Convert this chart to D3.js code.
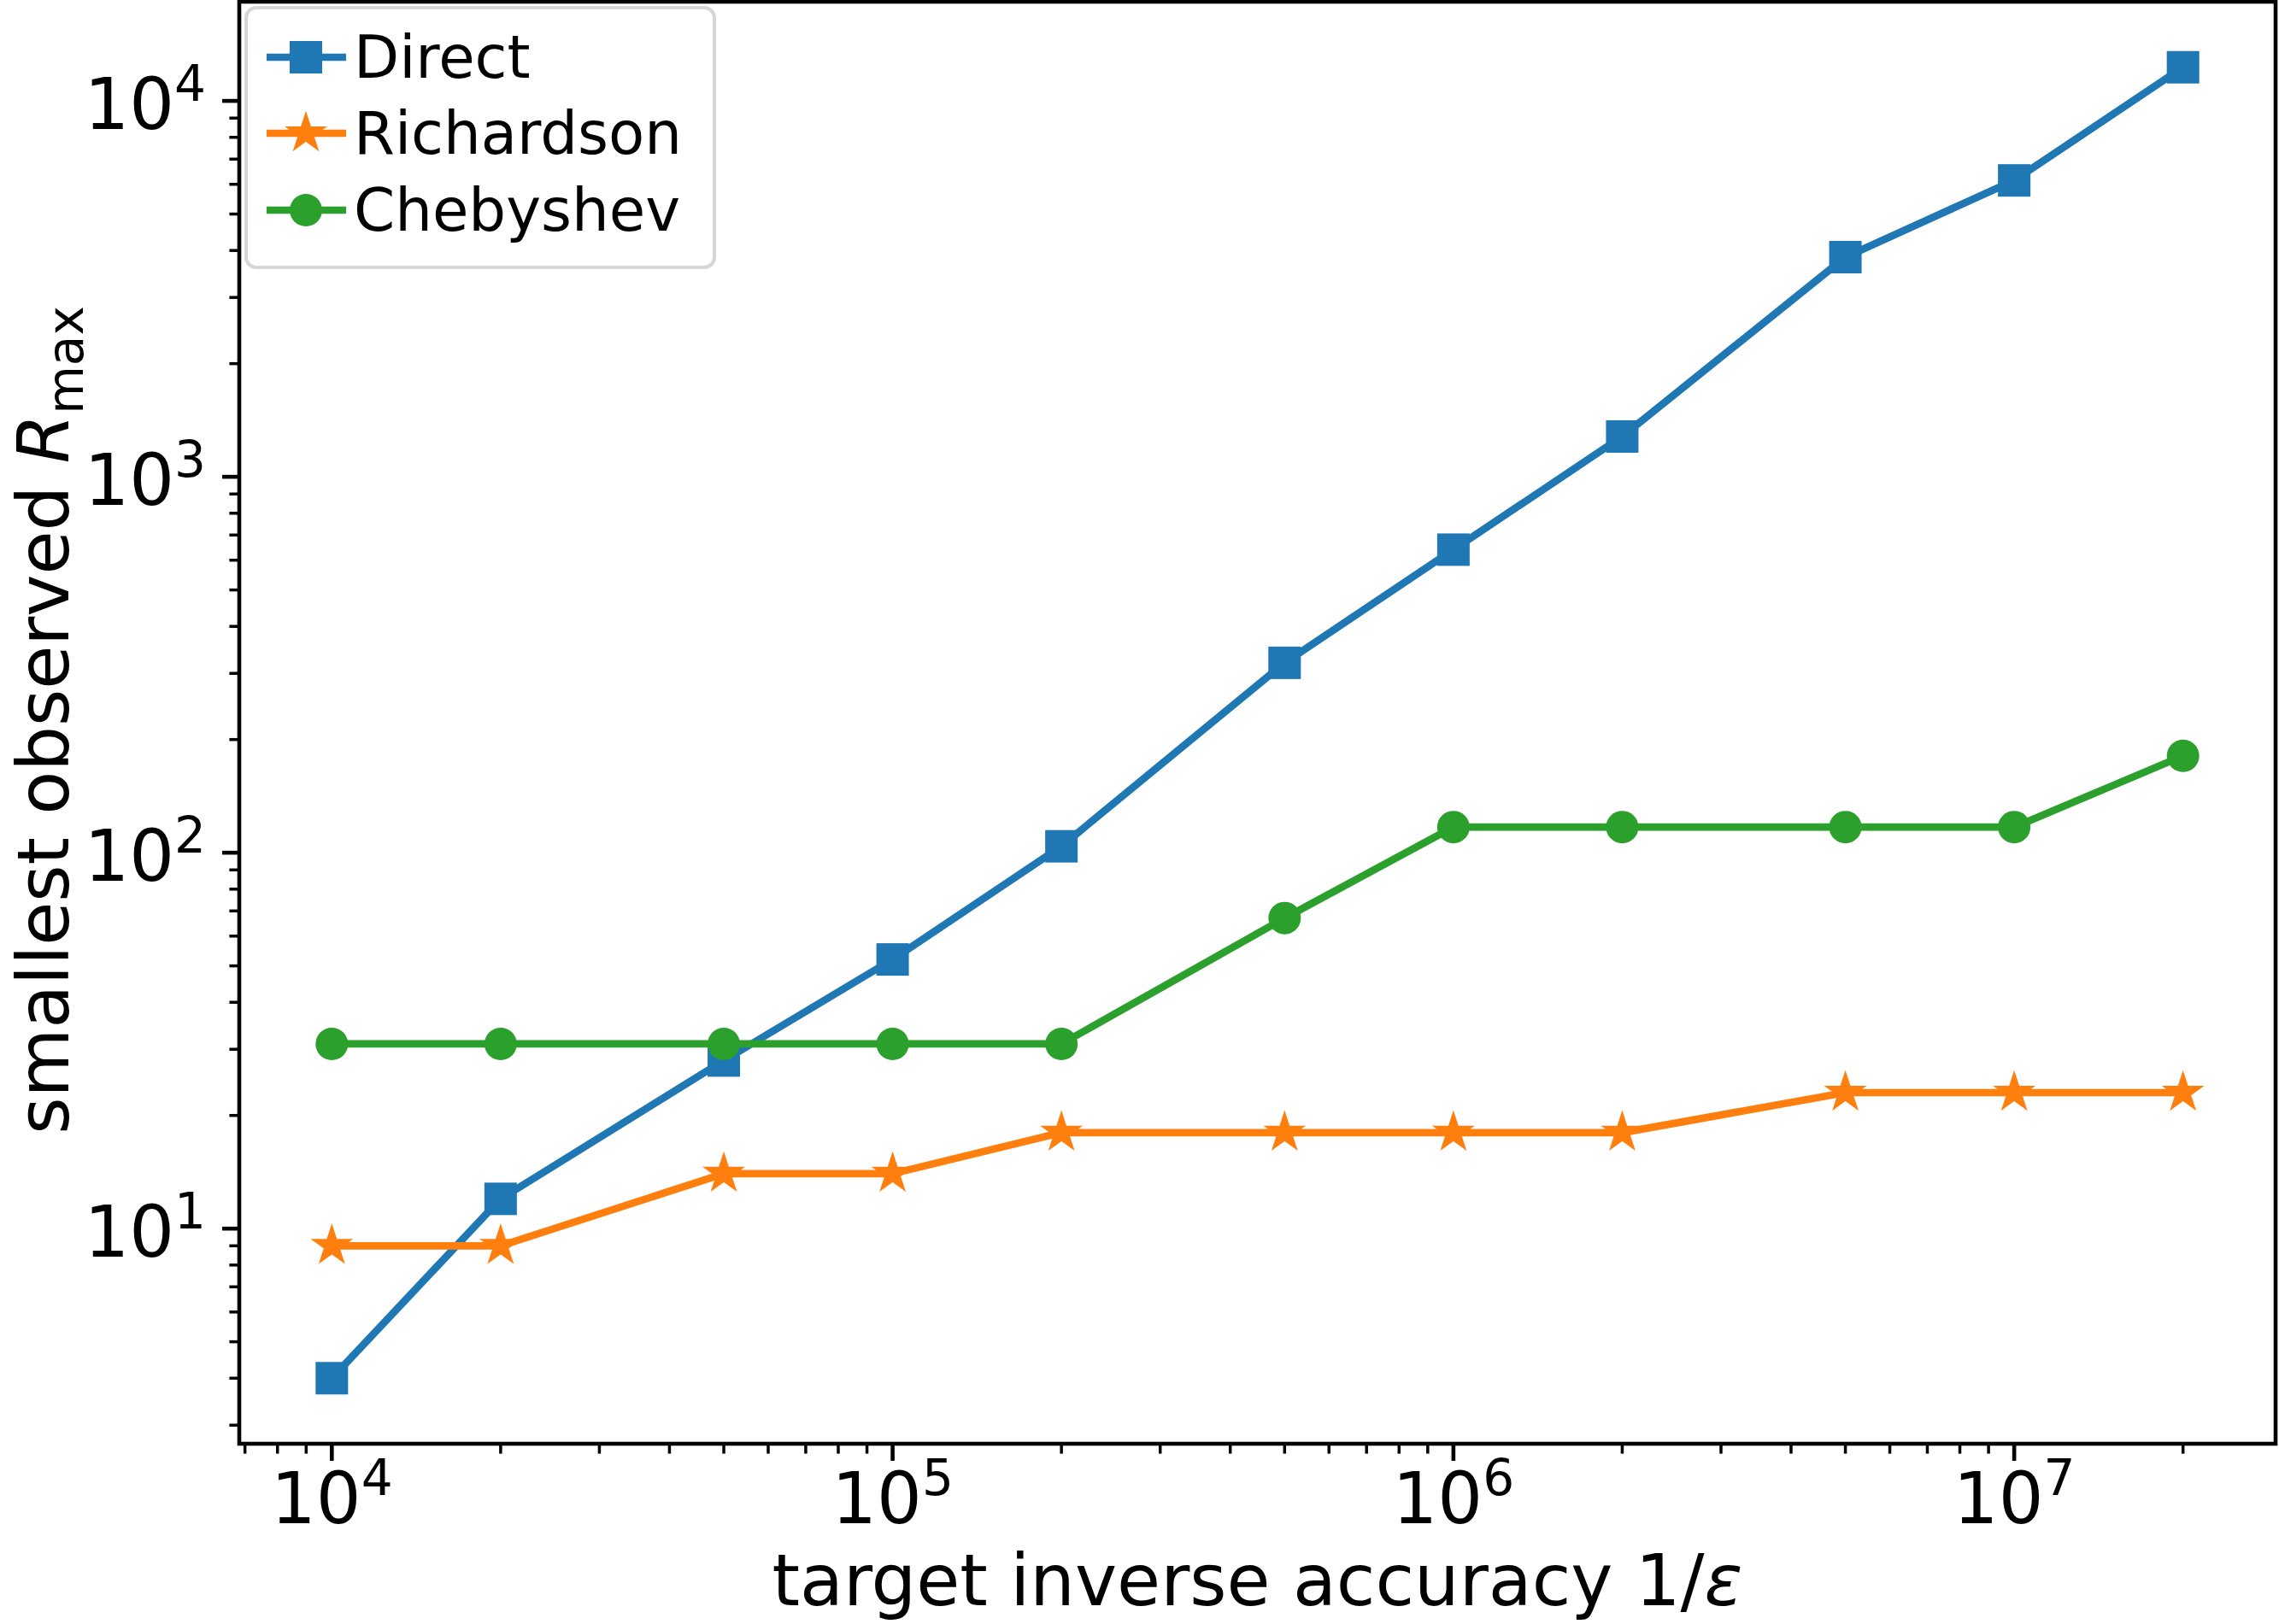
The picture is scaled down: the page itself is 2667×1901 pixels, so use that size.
<!DOCTYPE html>
<html lang="en">
<head>
<meta charset="UTF-8">
<title>smallest observed R_max</title>
<style>
    body, html { margin: 0; padding: 0; background: #fff; }
    svg { display: block; font-family: 'DejaVu Sans', sans-serif; }
    .spine { fill: none; stroke: #000; stroke-width: 4.6px; }
</style>
</head>
<body>
<svg id="chart" width="2667" height="1901"></svg>
<script src="https://d3js.org/d3.v7.min.js"></script>
<script>
// values
const targets = [1e4, 2e4, 5e4, 1e5, 2e5, 5e5, 1e6, 2e6, 5e6, 1e7, 2e7];
const direct = [4, 12, 28, 52, 104, 320, 640, 1280, 3840, 6144, 12288];
const richardson = [9, 9, 14, 14, 18, 18, 18, 18, 23, 23, 23];
const chebyshev = [31, 31, 31, 31, 31, 67, 117, 117, 117, 117, 181];
const seriesNames = ["Direct", "Richardson", "Chebyshev"];
const seriesColors = ["#1f77b4", "#ff7f0e", "#2ca02c"];
const seriesMarkers = ["square", "star", "circle"];
const xMajor = [1e4, 1e5, 1e6, 1e7];
const yMajor = [1e1, 1e2, 1e3, 1e4];

const series = [direct, richardson, chebyshev];

const svg = d3.select("#chart");
const plot = { left: 280, right: 2663, top: 2, bottom: 1690 };
const tickFont = 83, legendFont = 69;

// matplotlib-like 5% margins in log space
function logPad(lo, hi) {
    const a = Math.log10(lo), b = Math.log10(hi), m = (b - a) * 0.05;
    return [Math.pow(10, a - m), Math.pow(10, b + m)];
}
const allY = [].concat(direct, richardson, chebyshev);
const x = d3.scaleLog().domain(logPad(d3.min(targets), d3.max(targets))).range([plot.left, plot.right]);
const y = d3.scaleLog().domain(logPad(d3.min(allY), d3.max(allY))).range([plot.bottom, plot.top]);

function minorTicks(scale) {
    const [lo, hi] = scale.domain();
    const out = [];
    for (let e = Math.floor(Math.log10(lo)); e <= Math.ceil(Math.log10(hi)); e++) {
        for (let k = 2; k <= 9; k++) {
            const v = k * Math.pow(10, e);
            if (v >= lo && v <= hi) out.push(v);
        }
    }
    return out;
}

// ticks
const g = svg.append("g");
g.selectAll(".xmin").data(minorTicks(x)).enter().append("line")
    .attr("x1", d => x(d)).attr("x2", d => x(d))
    .attr("y1", plot.bottom).attr("y2", plot.bottom + 11.6)
    .attr("stroke", "#000").attr("stroke-width", 3.5);
g.selectAll(".xmaj").data(xMajor).enter().append("line")
    .attr("x1", d => x(d)).attr("x2", d => x(d))
    .attr("y1", plot.bottom).attr("y2", plot.bottom + 20)
    .attr("stroke", "#000").attr("stroke-width", 4.6);
g.selectAll(".ymin").data(minorTicks(y)).enter().append("line")
    .attr("y1", d => y(d)).attr("y2", d => y(d))
    .attr("x1", plot.left).attr("x2", plot.left - 11.6)
    .attr("stroke", "#000").attr("stroke-width", 3.5);
g.selectAll(".ymaj").data(yMajor).enter().append("line")
    .attr("y1", d => y(d)).attr("y2", d => y(d))
    .attr("x1", plot.left).attr("x2", plot.left - 20)
    .attr("stroke", "#000").attr("stroke-width", 4.6);

function powLabel(sel, v) {
    sel.append("tspan").text("10");
    sel.append("tspan").attr("font-size", tickFont * 0.7).attr("dy", -0.4 * tickFont)
        .text(Math.round(Math.log10(v)));
}
g.selectAll(".xlab").data(xMajor).enter().append("text")
    .attr("x", d => x(d)).attr("y", 1783)
    .attr("text-anchor", "middle").attr("font-size", tickFont)
    .each(function(d) { powLabel(d3.select(this), d); });
g.selectAll(".ylab").data(yMajor).enter().append("text")
    .attr("x", 241).attr("y", d => y(d) + 33)
    .attr("text-anchor", "end").attr("font-size", tickFont)
    .each(function(d) { powLabel(d3.select(this), d); });

// axis labels
const xl = svg.append("text").attr("x", (plot.left + plot.right) / 2).attr("y", 1879)
    .attr("text-anchor", "middle").attr("font-size", tickFont);
xl.append("tspan").text("target inverse accuracy 1/");
xl.append("tspan").attr("font-style", "italic").text("ε");

const yl = svg.append("text")
    .attr("transform", `translate(80,${(plot.top + plot.bottom) / 2 - 3}) rotate(-90)`)
    .attr("text-anchor", "middle").attr("font-size", tickFont);
yl.append("tspan").text("smallest observed ");
yl.append("tspan").attr("font-style", "italic").text("R");
yl.append("tspan").attr("font-size", tickFont * 0.7).attr("dy", 0.2 * tickFont).text("max");

// markers
function starPath(r) {
    const pts = [];
    for (let i = 0; i < 10; i++) {
        const rr = i % 2 === 0 ? r : r * 0.381966;
        const a = -Math.PI / 2 + i * Math.PI / 5;
        pts.push([rr * Math.cos(a), rr * Math.sin(a)]);
    }
    return "M" + pts.map(p => p.join(",")).join("L") + "Z";
}
function drawMarker(sel, type, color) {
    if (type === "square") {
        sel.append("rect").attr("x", -19).attr("y", -19).attr("width", 38).attr("height", 38).attr("fill", color);
    } else if (type === "circle") {
        sel.append("circle").attr("r", 19).attr("fill", color);
    } else {
        sel.append("path").attr("d", starPath(23)).attr("fill", color)
            .attr("stroke", color).attr("stroke-width", 2).attr("stroke-linejoin", "miter");
    }
}

const lines = svg.append("g");
const line = d3.line().x((d, i) => x(targets[i])).y(d => y(d));
series.forEach((vals, s) => {
    const sg = lines.append("g");
    sg.append("path").datum(vals).attr("d", line)
        .attr("fill", "none").attr("stroke", seriesColors[s]).attr("stroke-width", 8.7)
        .attr("stroke-linejoin", "round").attr("stroke-linecap", "square");
    sg.selectAll(".m").data(vals).enter().append("g")
        .attr("transform", (d, i) => `translate(${x(targets[i])},${y(d)})`)
        .each(function() { drawMarker(d3.select(this), seriesMarkers[s], seriesColors[s]); });
});

// spines
svg.append("rect").attr("class", "spine")
    .attr("x", plot.left).attr("y", plot.top)
    .attr("width", plot.right - plot.left).attr("height", plot.bottom - plot.top);

// legend
const leg = svg.append("g");
leg.append("rect").attr("x", 288).attr("y", 9).attr("width", 548).attr("height", 304)
    .attr("rx", 12).attr("fill", "#fff").attr("fill-opacity", 0.8)
    .attr("stroke", "#d6d6d6").attr("stroke-width", 4);
const rowY = [67, 156, 246];
seriesNames.forEach((name, s) => {
    const r = leg.append("g").attr("transform", `translate(0,${rowY[s]})`);
    r.append("line").attr("x1", 312).attr("x2", 405).attr("y1", 0).attr("y2", 0)
        .attr("stroke", seriesColors[s]).attr("stroke-width", 8.7);
    drawMarker(r.append("g").attr("transform", "translate(358,0)"), seriesMarkers[s], seriesColors[s]);
    r.append("text").attr("x", 414).attr("y", 24).attr("font-size", legendFont).text(name);
});
</script>
</body>
</html>
